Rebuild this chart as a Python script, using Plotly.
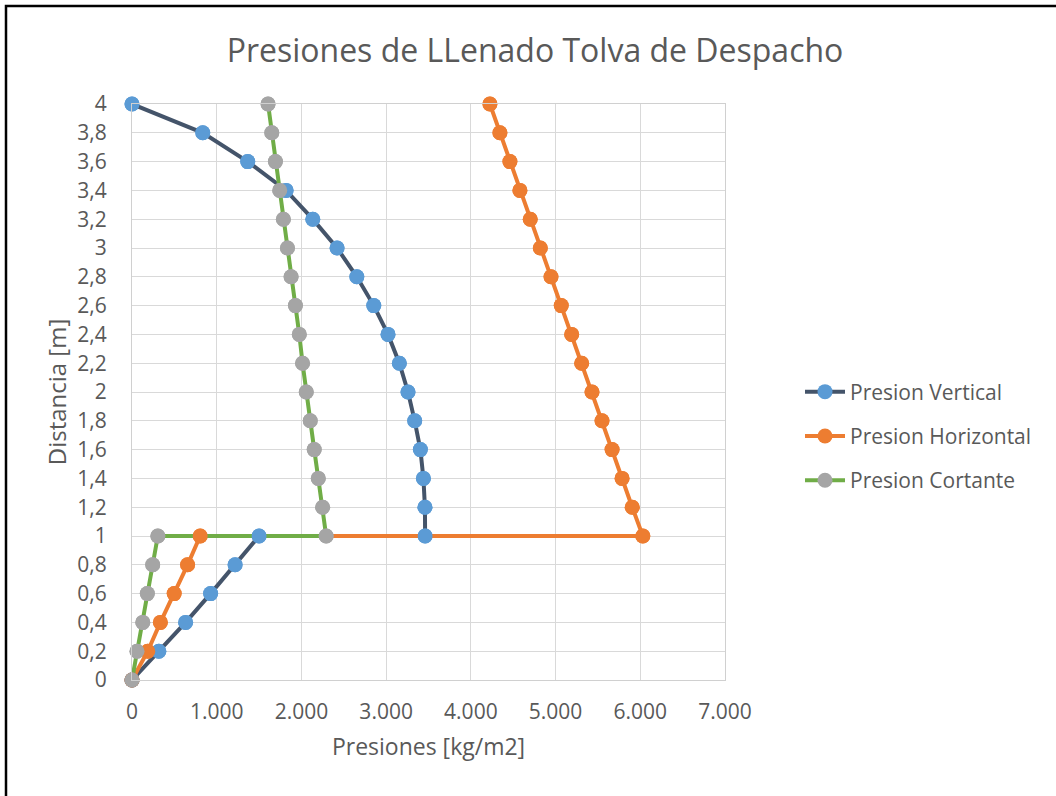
import plotly.graph_objects as go

# Distance along the hopper wall [m] (the step at 1 m appears twice)
distancia = [0, 0.2, 0.4, 0.6, 0.8, 1.0,
             1.0, 1.2, 1.4, 1.6, 1.8, 2.0, 2.2, 2.4, 2.6, 2.8,
             3.0, 3.2, 3.4, 3.6, 3.8, 4.0]

# Pressures [kg/m2]
presion_vertical = [0, 317, 633, 928, 1217, 1500,
                    3460, 3458, 3440, 3404, 3337, 3258, 3156, 3022, 2854, 2654,
                    2421, 2134, 1819, 1366, 835, 0]
presion_horizontal = [0, 186, 335, 498, 656, 805,
                      6030, 5905, 5785, 5667, 5548, 5430, 5308, 5190, 5067, 4946,
                      4820, 4701, 4579, 4461, 4343, 4225]
presion_cortante = [0, 59, 127, 181, 244, 305,
                    2292, 2250, 2199, 2151, 2104, 2057, 2013, 1975, 1929, 1878,
                    1835, 1787, 1744, 1693, 1650, 1606]

series = [
    ("Presion Vertical", presion_vertical, "#44546A", "#5B9BD5"),
    ("Presion Horizontal", presion_horizontal, "#ED7D31", "#ED7D31"),
    ("Presion Cortante", presion_cortante, "#70AD47", "#A5A5A5"),
]

FONT = "Open Sans"
GREY_TEXT = "#595959"
MARKER_SIZE = 15

fig = go.Figure()

# lines (with legend entries)
for i, (name, vals, lc, mc) in enumerate(series):
    fig.add_trace(go.Scatter(
        x=vals, y=distancia, name=name, mode="lines+markers",
        line=dict(color=lc, width=4),
        marker=dict(color=mc, size=MARKER_SIZE, line=dict(width=0)),
        legendgroup=f"g{i}", cliponaxis=False,
    ))

# markers on top of every line
for i, (name, vals, lc, mc) in enumerate(series):
    fig.add_trace(go.Scatter(
        x=vals, y=distancia, mode="markers", showlegend=False,
        marker=dict(color=mc, size=MARKER_SIZE, line=dict(width=0)),
        legendgroup=f"g{i}", hoverinfo="skip", cliponaxis=False,
    ))

W, H = 1056, 796
L, R, T, B = 132, 725, 104, 680

def px_x(p):
    return (p - L) / (R - L)

def px_y(p):
    return (B - p) / (B - T)

fig.update_layout(
    width=W, height=H,
    margin=dict(l=L, r=W - R, t=T, b=H - B),
    paper_bgcolor="white", plot_bgcolor="white",
    separators=",.",
    font=dict(family=FONT, color=GREY_TEXT, size=20),
    title=dict(text="Presiones de LLenado Tolva de Despacho",
               x=px_x(535), xanchor="center", xref="paper",
               y=1 - 51 / H, yanchor="middle",
               font=dict(family=FONT, size=32, color=GREY_TEXT)),
    xaxis=dict(range=[0, 7000], dtick=1000, tick0=0, tickformat=",.0f",
               showgrid=True, gridcolor="#D9D9D9", gridwidth=1,
               zeroline=False, showline=True, linecolor="#D0D0D0", linewidth=1,
               mirror=True, ticks="", ticklabelstandoff=13,
               tickfont=dict(size=21, color=GREY_TEXT),
               title=dict(text="Presiones [kg/m2]", standoff=14,
                          font=dict(size=23, color=GREY_TEXT))),
    yaxis=dict(range=[0, 4], dtick=0.2, tick0=0,
               showgrid=True, gridcolor="#D9D9D9", gridwidth=1,
               zeroline=False, showline=True, linecolor="#D0D0D0", linewidth=1,
               mirror=True, ticks="", ticklabelstandoff=20,
               tickfont=dict(size=21, color=GREY_TEXT),
               title=dict(text="Distancia [m]", standoff=3,
                          font=dict(size=24, color=GREY_TEXT))),
    legend=dict(x=px_x(800), xanchor="left", y=px_y(436), yanchor="middle",
                font=dict(size=21, color=GREY_TEXT), tracegroupgap=14,
                bgcolor="rgba(0,0,0,0)", itemwidth=40),
    shapes=[dict(type="rect", xref="paper", yref="paper",
                 x0=px_x(6), x1=px_x(1070), y0=px_y(810), y1=px_y(6),
                 line=dict(color="black", width=2.5), fillcolor="rgba(0,0,0,0)",
                 layer="above")],
)

fig.write_html("out.html")
